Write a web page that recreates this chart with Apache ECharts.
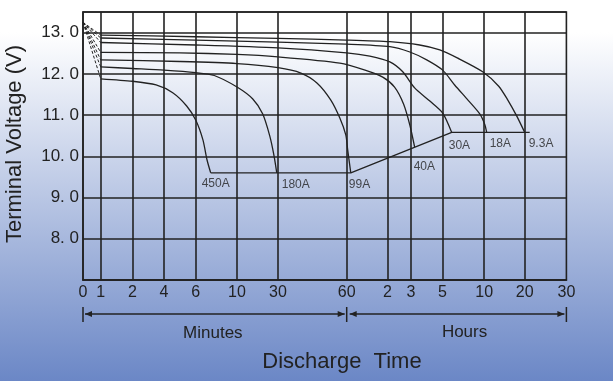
<!DOCTYPE html>
<html>
<head>
<meta charset="utf-8">
<script src="https://cdn.jsdelivr.net/npm/echarts@6/dist/echarts.min.js"></script>
<style>
  html, body { margin: 0; padding: 0; }
  #chart { width: 613px; height: 381px; }
</style>
</head>
<body>
<div id="chart"></div>
<script>
// ---- Time axis: minutes for the left part, hours for the right part (all stored in minutes)
const tickTimes  = [0, 1, 2, 4, 6, 10, 30, 60, 120, 180, 300, 600, 1200, 1800];
const tickLabels = ['0', '1', '2', '4', '6', '10', '30', '60', '2', '3', '5', '10', '20', '30'];
// axis units at which each time tick sits (the time scale is stretched piecewise)
const tickPos    = [0, 17.7, 49.4, 81, 112.7, 154, 195, 263.7, 304.5, 328, 359.4, 401.2, 441.7, 483.4];

// ---- Voltage axis
const voltMin = 7, voltMax = 13.5, voltStep = 1;

// ---- Discharge curves (time in minutes, terminal voltage in V)
const curveNames = ['9.3A', '18A', '30A', '40A', '99A', '180A', '450A'];

const t9_3 = [1, 6, 30, 60, 126, 213, 290, 410, 589, 815, 948, 1081, 1200];
const v9_3 = [12.94, 12.90, 12.86, 12.82, 12.78, 12.70, 12.58, 12.38, 12.05, 11.70, 11.37, 10.98, 10.58];

const t18 = [1, 6, 30, 60, 126, 177, 240, 302, 388, 482, 568, 607, 637];
const v18 = [12.87, 12.82, 12.77, 12.72, 12.66, 12.53, 12.34, 12.09, 11.73, 11.37, 11.03, 10.78, 10.58];

const t30 = [1, 6, 30, 60, 94, 126, 159, 194, 252, 302, 367];
const v30 = [12.76, 12.70, 12.63, 12.51, 12.43, 12.29, 12.05, 11.66, 11.34, 11.05, 10.58];

const t40 = [1, 5, 10, 30, 57, 87, 113, 138, 161, 177, 194];
const v40 = [12.52, 12.51, 12.47, 12.41, 12.26, 12.09, 11.92, 11.68, 11.27, 10.76, 10.22];

const t99 = [1, 5, 10, 30, 40, 47, 53, 57, 59.6, 61.5, 66];
const v99 = [12.34, 12.30, 12.25, 12.15, 12.02, 11.78, 11.37, 10.93, 10.52, 10.15, 9.60];

const t180 = [1, 2, 4, 6, 7.8, 10, 17.7, 22.5, 26, 28, 29.4];
const v180 = [12.17, 12.13, 12.09, 12.03, 11.96, 11.68, 11.39, 11.03, 10.49, 10.03, 9.60];

const t450 = [1, 2, 3.5, 4.55, 5.43, 6, 6.7, 7.1, 7.45];
const v450 = [11.88, 11.82, 11.73, 11.54, 11.22, 10.88, 10.40, 9.91, 9.60];

// open-circuit start point every curve falls from during the first minute
const startTime = 0, startVolt = 13.25;

// end-of-discharge voltage line joining the curve ends
const cutT = [7.45, 66, 367, 1272];
const cutV = [9.60, 9.60, 10.58, 10.58];

const curveTimes = [t9_3, t18, t30, t40, t99, t180, t450];
const curveVolts = [v9_3, v18, v30, v40, v99, v180, v450];

// ---- helpers
function toAxis(t) {
  for (let i = 0; i < tickTimes.length - 1; i++) {
    if (t <= tickTimes[i + 1]) {
      const f = (t - tickTimes[i]) / (tickTimes[i + 1] - tickTimes[i]);
      return tickPos[i] + f * (tickPos[i + 1] - tickPos[i]);
    }
  }
  return tickPos[tickPos.length - 1];
}

const FONT = '"Liberation Sans", Arial, Helvetica, sans-serif';
const INK = '#222222';

// where each current label sits relative to its curve end (px)
const labelShift = {
  '9.3A': [4, 11], '18A': [3, 11], '30A': [-3, 13], '40A': [-1, 19],
  '99A': [-2, 12], '180A': [5, 12], '450A': [-9, 11]
};

const series = [];
curveNames.forEach((name, k) => {
  const ts = curveTimes[k], vs = curveVolts[k];
  series.push({
    type: 'line', name: name,
    data: ts.map((t, i) => [toAxis(t), vs[i]]),
    symbol: 'none', smooth: 0.25, silent: true, z: 4,
    lineStyle: { color: INK, width: 1.3 }
  });
  series.push({
    type: 'line',
    data: [[toAxis(startTime), startVolt], [toAxis(ts[0]), vs[0]]],
    symbol: 'none', silent: true, z: 4,
    lineStyle: { color: INK, width: 1, type: [3, 2] }
  });
});

series.push({
  type: 'line',
  data: cutT.map((t, i) => [toAxis(t), cutV[i]]),
  symbol: 'none', silent: true, z: 4,
  lineStyle: { color: INK, width: 1.3 },
  markLine: {
    silent: true, symbol: ['none', 'none'], animation: false,
    label: { show: false },
    lineStyle: { color: INK, width: 1.6, type: 'solid' },
    data: tickPos.slice(1, -1).map(u => ({ xAxis: u }))
  }
});

series.push({
  type: 'scatter', symbol: 'circle', symbolSize: 2, silent: true, z: 5,
  itemStyle: { color: 'rgba(0,0,0,0)' },
  labelLayout: { hideOverlap: false },
  label: {
    show: true, formatter: '{b}', align: 'left', verticalAlign: 'middle',
    fontFamily: FONT, fontSize: 12, color: INK
  },
  data: curveNames.map((name, k) => {
    const ts = curveTimes[k], vs = curveVolts[k];
    const s = labelShift[name];
    return {
      name: name,
      value: [toAxis(ts[ts.length - 1]), vs[vs.length - 1]],
      label: { position: [s[0] + 1, s[1] + 1] }
    };
  })
});

const chart = echarts.init(document.getElementById('chart'));

chart.setOption({
  animation: false,
  backgroundColor: new echarts.graphic.LinearGradient(0, 0, 0, 1, [
    { offset: 0, color: '#ffffff' },
    { offset: 0.085, color: '#ffffff' },
    { offset: 1, color: '#6b87c6' }
  ]),
  grid: {
    left: 83, top: 12, width: 483.4, height: 268,
    show: true, borderColor: INK, borderWidth: 1.6, backgroundColor: 'transparent'
  },
  xAxis: {
    type: 'value', min: 0, max: tickPos[tickPos.length - 1],
    axisLine: { show: true, lineStyle: { color: INK, width: 1.6 } },
    axisTick: { show: false },
    splitLine: { show: false },
    axisLabel: {
      customValues: tickPos,
      showMinLabel: true, showMaxLabel: true, hideOverlap: false,
      margin: 5, fontFamily: FONT, fontSize: 16, color: INK,
      formatter: (val) => {
        const i = tickPos.findIndex(p => Math.abs(p - val) < 0.01);
        return i >= 0 ? tickLabels[i] : '';
      }
    }
  },
  yAxis: {
    type: 'value', min: voltMin, max: voltMax, interval: voltStep,
    axisLine: { show: true, lineStyle: { color: INK, width: 1.6 } },
    axisTick: { show: false },
    splitLine: { show: true, lineStyle: { color: INK, width: 1.6 } },
    axisLabel: {
      margin: 4, fontFamily: FONT, fontSize: 17, color: INK,
      formatter: (v) => (Number.isInteger(v) && v > voltMin) ? v + '. 0' : ''
    }
  },
  series: series
});

// ---- Minutes / Hours span arrows and axis titles, positioned from the axis scale
const px = (t) => chart.convertToPixel({ gridIndex: 0 }, [toAxis(t), voltMin])[0];
const xStart = px(0), xMid = px(60), xEnd = px(1800);
const yArrow = 314, barTop = 307, barBottom = 322;

function arrowHead(tipX, dir) {
  return {
    type: 'polygon', silent: true,
    shape: { points: [[tipX, yArrow], [tipX + dir * 7, yArrow - 3], [tipX + dir * 7, yArrow + 3]] },
    style: { fill: INK }
  };
}
function bar(x) {
  return {
    type: 'line', silent: true,
    shape: { x1: x, y1: barTop, x2: x, y2: barBottom },
    style: { stroke: INK, lineWidth: 1.5 }
  };
}
function hline(x1, x2) {
  return {
    type: 'line', silent: true,
    shape: { x1: x1, y1: yArrow, x2: x2, y2: yArrow },
    style: { stroke: INK, lineWidth: 1.3 }
  };
}
function label(text, x, y, size, rot) {
  return {
    type: 'text', silent: true, x: x, y: y, rotation: rot || 0,
    style: {
      text: text, font: size + 'px ' + FONT, fill: INK,
      align: 'center', verticalAlign: 'middle'
    }
  };
}

chart.setOption({
  graphic: [
    bar(xStart), bar(xMid), bar(xEnd),
    hline(xStart + 2, xMid - 2), hline(xMid + 3, xEnd - 2),
    arrowHead(xStart + 2, 1), arrowHead(xMid - 2, -1),
    arrowHead(xMid + 3, 1), arrowHead(xEnd - 2, -1),
    label('Minutes', (xStart + xMid) / 2 - 2, 333, 17),
    label('Hours', (xMid + xEnd) / 2 + 8, 332, 17),
    label('Discharge  Time', 342, 362, 22),
    label('Terminal Voltage (V)', 15, 144, 22, Math.PI / 2)
  ]
});
</script>
</body>
</html>
